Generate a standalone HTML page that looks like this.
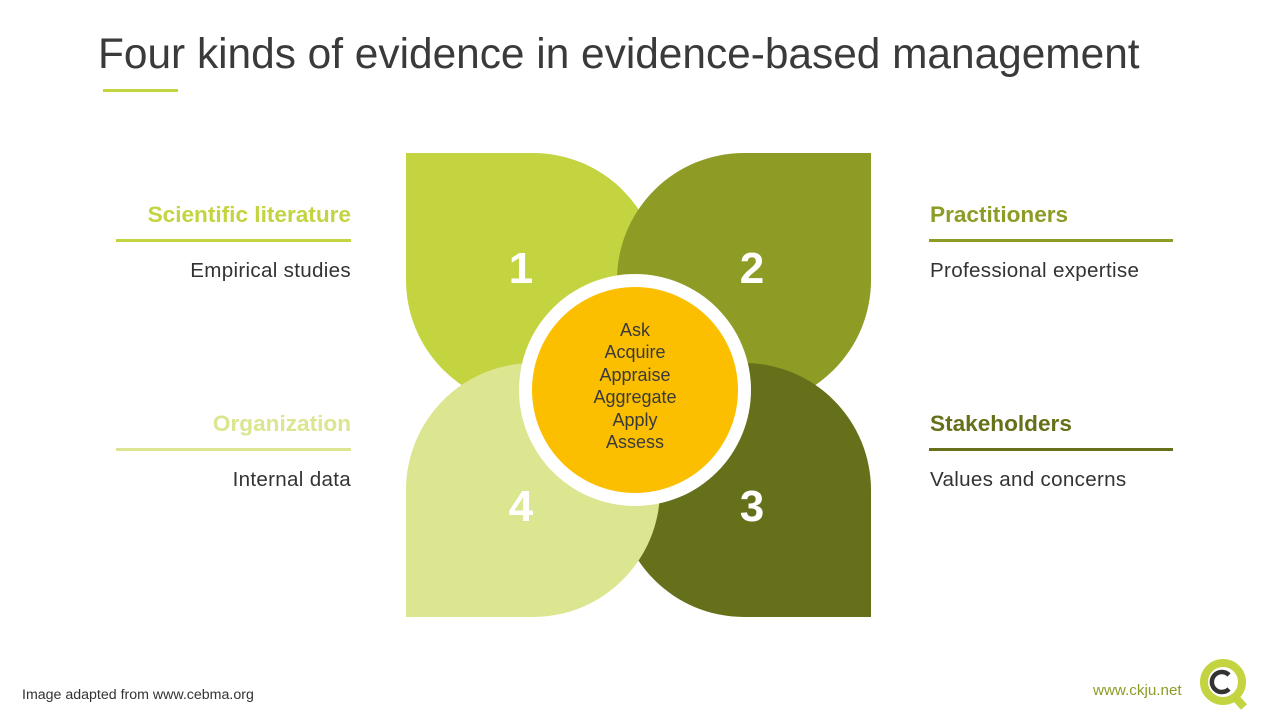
<!DOCTYPE html>
<html><head><meta charset="utf-8"><style>
body{margin:0;width:1280px;height:720px;background:#fff;position:relative;overflow:hidden;font-family:"Liberation Sans",sans-serif}
.a{position:absolute}
.p{position:absolute;width:254px;height:254px}
.n{position:absolute;color:#fff;font-weight:bold;font-size:44px;width:80px;text-align:center;margin-left:-40px;line-height:50px}
.h{position:absolute;font-weight:bold;font-size:22.6px;line-height:26px}
.s{position:absolute;font-size:20.6px;color:#333;line-height:24px;letter-spacing:0.3px}
.l{position:absolute;height:3px;width:235px}
</style></head><body>
<div class="a" style="left:98px;top:29px;font-size:42.4px;color:#3a3a3a;line-height:50px">Four kinds of evidence in evidence-based management</div>
<div class="a" style="left:103px;top:89px;width:75px;height:3px;background:#c4d441"></div>

<div class="p" style="left:406px;top:153px;background:#c4d441;border-radius:0 50% 50% 50%"></div>
<div class="p" style="left:617px;top:153px;background:#8e9b25;border-radius:50% 0 50% 50%"></div>
<div class="p" style="left:617px;top:363px;background:#66701a;border-radius:50% 50% 0 50%"></div>
<div class="p" style="left:406px;top:363px;background:#dce58f;border-radius:50% 50% 50% 0"></div>

<div class="n" style="left:521px;top:244px">1</div>
<div class="n" style="left:752px;top:244px">2</div>
<div class="n" style="left:752px;top:482px">3</div>
<div class="n" style="left:521px;top:482px">4</div>

<div class="a" style="left:519px;top:274px;width:232px;height:232px;border-radius:50%;background:#fff"></div>
<div class="a" style="left:532px;top:287px;width:206px;height:206px;border-radius:50%;background:#fbbf00"></div>
<div class="a" style="left:535px;top:319px;width:200px;text-align:center;font-size:18px;line-height:22.4px;color:#3a3a3a">Ask<br>Acquire<br>Appraise<br>Aggregate<br>Apply<br>Assess</div>

<div class="h" style="right:929px;top:202px;color:#c4d441">Scientific literature</div>
<div class="l" style="left:116px;top:239px;background:#c4d441"></div>
<div class="s" style="right:929px;top:259px">Empirical studies</div>
<div class="h" style="right:929px;top:411px;color:#dce58f">Organization</div>
<div class="l" style="left:116px;top:448px;background:#dce58f"></div>
<div class="s" style="right:929px;top:468px">Internal data</div>

<div class="h" style="left:930px;top:202px;color:#8e9b25">Practitioners</div>
<div class="l" style="left:929px;top:239px;width:244px;background:#8e9b25"></div>
<div class="s" style="left:930px;top:259px">Professional expertise</div>
<div class="h" style="left:930px;top:411px;color:#66701a">Stakeholders</div>
<div class="l" style="left:929px;top:448px;width:244px;background:#66701a"></div>
<div class="s" style="left:930px;top:468px">Values and concerns</div>

<div class="a" style="left:22px;top:687px;font-size:14.2px;color:#333">Image adapted from www.cebma.org</div>
<div class="a" style="left:1093px;top:682px;font-size:15.2px;color:#8e9b25">www.ckju.net</div>
<svg class="a" style="left:1196px;top:654px" width="60" height="60" viewBox="0 0 60 60">
<circle cx="27" cy="28" r="19" fill="none" stroke="#c4d441" stroke-width="8"/>
<path d="M38 42 L48 53" stroke="#c4d441" stroke-width="8"/>
<path d="M33 21 A10 10 0 1 0 33 35" fill="none" stroke="#333" stroke-width="4.5"/>
</svg>
</body></html>
